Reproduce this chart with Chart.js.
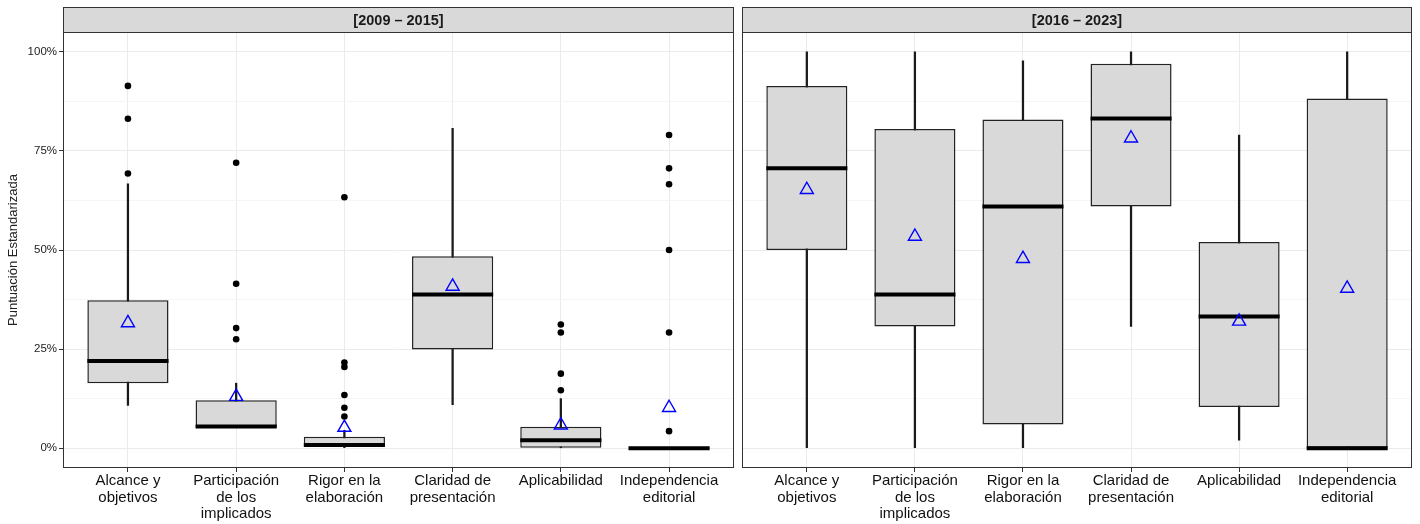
<!DOCTYPE html>
<html>
<head>
<meta charset="utf-8">
<script src="https://cdn.jsdelivr.net/npm/chart.js@4.4.1/dist/chart.umd.min.js"></script>
<style>
    html, body { margin: 0; padding: 0; background: #fff; }
    #wrap { position: relative; width: 1420px; height: 524px; }
    canvas { position: absolute; top: 0; }
    #left { left: 0; }
    #right { left: 737px; }
</style>
</head>
<body>
<div id="wrap">
    <canvas id="left" width="737" height="524"></canvas>
    <canvas id="right" width="683" height="524"></canvas>
</div>
<script>
// Categorías (etiquetas del eje x, en varias líneas)
const categories = [
    ['Alcance y', 'objetivos'],
    ['Participación', 'de los', 'implicados'],
    ['Rigor en la', 'elaboración'],
    ['Claridad de', 'presentación'],
    ['Aplicabilidad'],
    ['Independencia', 'editorial']
];

const yTickValues = [0, 12.5, 25, 37.5, 50, 62.5, 75, 87.5, 100];

// Periodo 2009 - 2015
const p1Label = '[2009 – 2015]';
const p1Low = [10.8, 5.2, 0, 11.0, 0.1, 0];
const p1Q1 = [16.4, 5.2, 0.6, 24.9, 0.1, 0];
const p1Median = [22.0, 5.5, 0.8, 38.8, 2.0, 0];
const p1Q3 = [37.3, 12.1, 2.9, 48.4, 5.4, 0];
const p1High = [66.7, 16.4, 4.5, 80.7, 12.5, 0];
const p1Mean = [31.6, 13.0, 5.2, 40.8, 5.8, 10.2];
const p1Outliers = [
    [91.4, 83.1, 69.3],
    [72.0, 41.5, 30.3, 27.5],
    [63.3, 21.6, 20.5, 13.4, 10.2, 8.0],
    [],
    [31.2, 29.2, 18.8, 14.6],
    [79.0, 70.6, 66.6, 50.0, 29.2, 4.3]
];

// Periodo 2016 - 2023
const p2Label = '[2016 – 2023]';
const p2Low = [0, 0, 0, 30.7, 2.0, 0];
const p2Q1 = [50.0, 30.7, 6.0, 61.0, 10.4, 0];
const p2Median = [70.6, 38.8, 61.0, 83.2, 33.2, 0];
const p2Q3 = [91.4, 80.5, 82.9, 97.0, 52.0, 88.2];
const p2High = [100, 100, 97.7, 100, 79.0, 100];
const p2Mean = [65.2, 53.4, 47.8, 78.2, 32.0, 40.3];
const p2Outliers = [[], [], [], [], [], []];

const FONT = '"Liberation Sans", Arial, sans-serif';
Chart.defaults.font.family = FONT;

// Marco del panel y franja con el título (estilo ggplot)
const panelFrame = {
    id: 'panelFrame',
    afterDraw(chart, args, opts) {
        const { ctx, chartArea: a } = chart;
        ctx.save();
        ctx.strokeStyle = '#333';
        ctx.lineWidth = 1;
        ctx.strokeRect(a.left + 0.5, a.top + 0.5, a.width - 1, a.height - 1);
        ctx.fillStyle = '#d9d9d9';
        ctx.fillRect(a.left, 7, a.width, a.top - 7);
        ctx.strokeRect(a.left + 0.5, 7.5, a.width - 1, a.top - 7);
        ctx.fillStyle = '#1a1a1a';
        ctx.font = 'bold 14.5px ' + FONT;
        ctx.textAlign = 'center';
        ctx.textBaseline = 'middle';
        ctx.fillText(opts.text, (a.left + a.right) / 2, (7 + a.top) / 2 + 1);
        ctx.restore();
    }
};

const isMajor = v => v % 25 === 0;

function createPanel(canvasId, label, low, q1, median, q3, high, mean, outliers, showY) {
    const ctx = document.getElementById(canvasId).getContext('2d');
    const xs = categories.map((c, i) => i + 1);
    const halfBox = c => {
        const s = c.chart.scales.x;
        return s.getPixelForValue(1.375) - s.getPixelForValue(1);
    };

    new Chart(ctx, {
        type: 'bar',
        data: {
            datasets: [
                {
                    type: 'scatter',
                    data: xs.map((x, i) => ({ x, y: mean[i] })),
                    pointStyle: 'triangle',
                    pointRadius: 7.5,
                    pointBorderWidth: 1.4,
                    pointBorderColor: '#0000ff',
                    pointBackgroundColor: 'rgba(0,0,0,0)'
                },
                {
                    type: 'scatter',
                    data: xs.flatMap((x, i) => outliers[i].map(v => ({ x, y: v }))),
                    pointStyle: 'circle',
                    pointRadius: 3.3,
                    pointBorderWidth: 0,
                    pointBackgroundColor: '#000'
                },
                {
                    type: 'scatter',
                    data: xs.map((x, i) => ({ x, y: median[i] })),
                    pointStyle: 'line',
                    pointRadius: halfBox,
                    pointBorderWidth: 4,
                    pointBorderColor: '#000'
                },
                {
                    data: xs.map((x, i) => ({ x, y: [q1[i], q3[i]] })),
                    backgroundColor: '#d9d9d9',
                    borderColor: '#222',
                    borderWidth: 1.5,
                    borderSkipped: false,
                    grouped: false,
                    categoryPercentage: 1,
                    barPercentage: 0.75
                },
                {
                    data: xs.map((x, i) => ({ x, y: [low[i], high[i]] })),
                    backgroundColor: '#1a1a1a',
                    borderWidth: 0,
                    grouped: false,
                    barThickness: 1.6
                }
            ]
        },
        options: {
            responsive: false,
            animation: false,
            events: [],
            layout: {
                autoPadding: false,
                padding: showY ? { top: 32, right: 3, left: 0, bottom: 0 } : { top: 32, right: 8, left: 5, bottom: 0 }
            },
            plugins: {
                legend: { display: false },
                tooltip: { enabled: false },
                panelFrame: { text: label }
            },
            scales: {
                x: {
                    type: 'linear',
                    min: 0.4,
                    max: 6.6,
                    offset: false,
                    afterBuildTicks: s => { s.ticks = xs.map(v => ({ value: v })); },
                    afterFit: s => { s.height = 56; },
                    ticks: {
                        autoSkip: false,
                        maxRotation: 0,
                        padding: 1,
                        color: '#111',
                        font: { size: 15, lineHeight: 1.1 },
                        callback: v => categories[v - 1]
                    },
                    grid: { offset: false, color: '#ebebeb', tickLength: 4, tickColor: '#333' },
                    border: { display: false }
                },
                y: {
                    min: -5,
                    max: 105,
                    afterBuildTicks: s => { s.ticks = yTickValues.map(v => ({ value: v })); },
                    afterFit: s => { s.width = showY ? 63 : 0; },
                    ticks: {
                        display: showY,
                        padding: 2,
                        color: '#222',
                        font: { size: 11.5 },
                        callback: v => isMajor(v) ? v + '%' : ''
                    },
                    grid: {
                        color: c => isMajor(c.tick.value) ? '#ebebeb' : '#f5f5f5',
                        drawTicks: showY,
                        tickLength: 4,
                        tickColor: c => isMajor(c.tick.value) ? '#333' : 'rgba(0,0,0,0)'
                    },
                    border: { display: false },
                    title: {
                        display: showY,
                        text: 'Puntuación Estandarizada',
                        color: '#222',
                        font: { size: 13 },
                        padding: { top: 6, bottom: 0 }
                    }
                }
            }
        },
        plugins: [panelFrame]
    });
}

createPanel('left', p1Label, p1Low, p1Q1, p1Median, p1Q3, p1High, p1Mean, p1Outliers, true);
createPanel('right', p2Label, p2Low, p2Q1, p2Median, p2Q3, p2High, p2Mean, p2Outliers, false);
</script>
</body>
</html>
